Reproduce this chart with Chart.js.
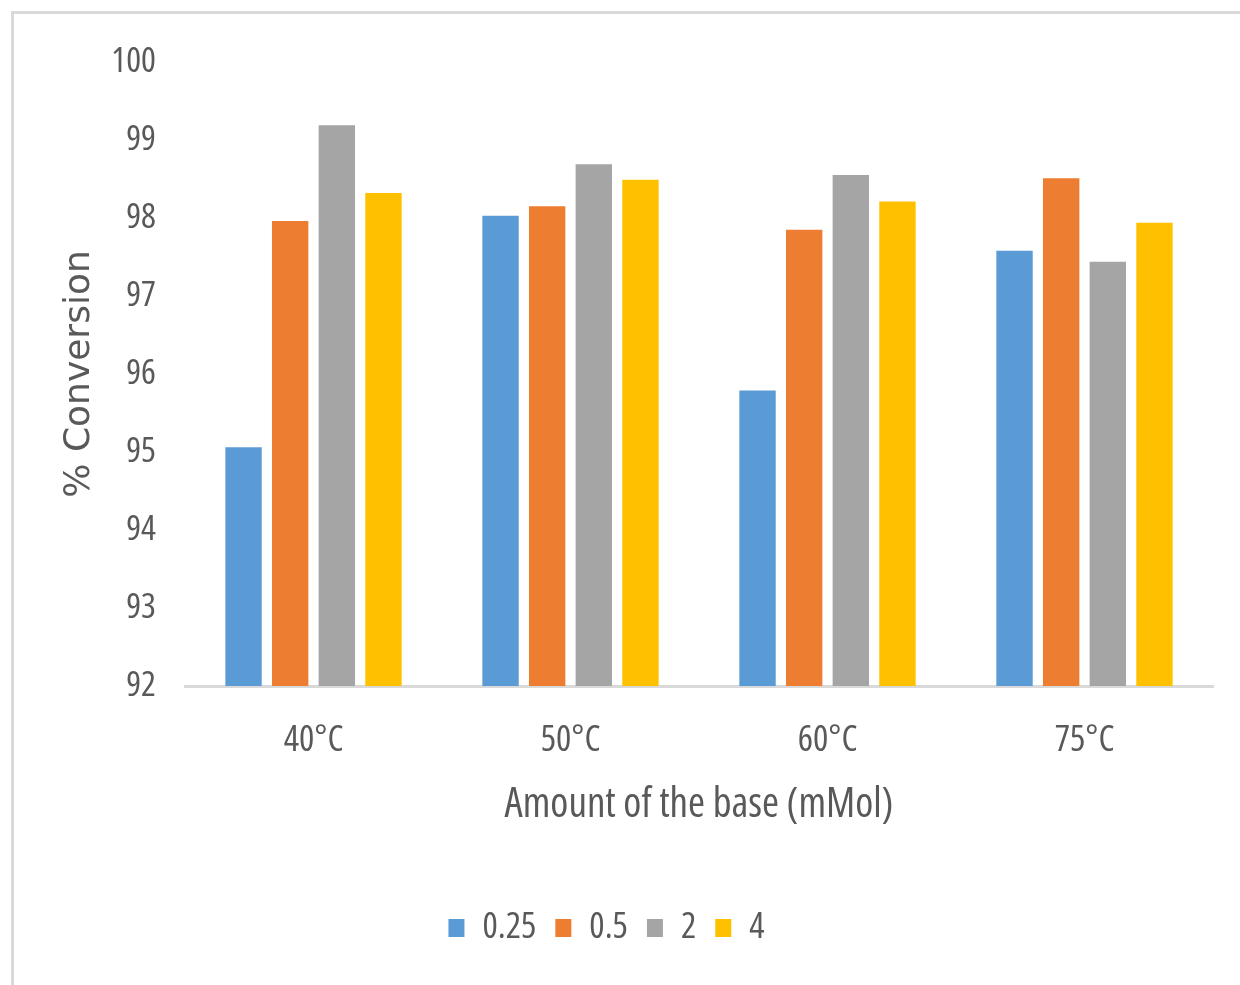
<!DOCTYPE html>
<html>
<head>
<meta charset="utf-8">
<style>
  html, body { margin: 0; padding: 0; background: #ffffff; }
  #wrap { position: relative; width: 1240px; height: 985px; overflow: hidden; }
  #frame { position: absolute; left: 11px; top: 11px; width: 1240px; height: 985px;
           border-top: 3px solid #d9d9d9; border-left: 3px solid #d9d9d9; pointer-events: none; }
  canvas { position: absolute; left: 0; top: 0; }
</style>
<script src="https://cdn.jsdelivr.net/npm/chart.js@4/dist/chart.umd.min.js"></script>
</head>
<body>
<div id="wrap">
  <canvas id="chart" width="1240" height="985"></canvas>
  <div id="frame"></div>
</div>
<script>
// Reaction temperatures (x categories)
const categories = ['40°C', '50°C', '60°C', '75°C'];
// Amount of base in mMol (one series each)
const seriesNames = ['0.25', '0.5', '2', '4'];
const conv025 = [95.06, 98.03, 95.79, 97.58];
const conv05  = [97.96, 98.15, 97.85, 98.51];
const conv2   = [99.19, 98.69, 98.55, 97.44];
const conv4   = [98.32, 98.49, 98.21, 97.94];
const seriesValues = [conv025, conv05, conv2, conv4];
const seriesColors = ['#5B9BD5', '#ED7D31', '#A5A5A5', '#FFC000'];

// Narrow sans face: Open Sans at condensed width (the stretch keyword rides in the weight slot)
const narrowFamily = "'Open Sans', 'Roboto Condensed', 'DejaVu Sans Condensed', sans-serif";
const narrow = (size) => ({ family: narrowFamily, size, weight: 'condensed' });
const textColor = '#595959';

const datasets = seriesNames.map((name, i) => ({
  label: name,
  data: seriesValues[i],
  backgroundColor: seriesColors[i],
  borderWidth: 0,
  categoryPercentage: 0.726,
  barPercentage: 0.78
}));

new Chart(document.getElementById('chart'), {
  type: 'bar',
  data: { labels: categories, datasets },
  options: {
    responsive: false,
    animation: false,
    devicePixelRatio: 1,
    layout: { padding: { top: 62, right: 27, bottom: 29, left: 0 } },
    plugins: {
      tooltip: { enabled: false },
      legend: {
        position: 'bottom',
        labels: {
          boxWidth: 16,
          boxHeight: 18,
          padding: 19,
          color: textColor,
          font: narrow(36)
        }
      }
    },
    scales: {
      x: {
        grid: { display: false, drawTicks: false },
        border: { display: true, color: '#d9d9d9', width: 3 },
        ticks: { color: textColor, padding: 33, font: narrow(36) },
        title: {
          display: true,
          text: 'Amount of the base (mMol)',
          color: textColor,
          font: narrow(41),
          padding: { top: 0, bottom: 61 }
        },
        afterFit: (scale) => { scale.height = 205; }
      },
      y: {
        min: 92,
        max: 100,
        grid: { display: false, drawTicks: false },
        border: { display: false },
        ticks: { stepSize: 1, color: textColor, padding: 29, font: narrow(35) },
        title: {
          display: true,
          text: '% Conversion',
          color: textColor,
          font: { family: "'DejaVu Sans', Verdana, sans-serif", size: 36 },
          padding: { top: 58, bottom: 0 }
        },
        afterFit: (scale) => { scale.width = 185; }
      }
    }
  }
});
</script>
</body>
</html>
